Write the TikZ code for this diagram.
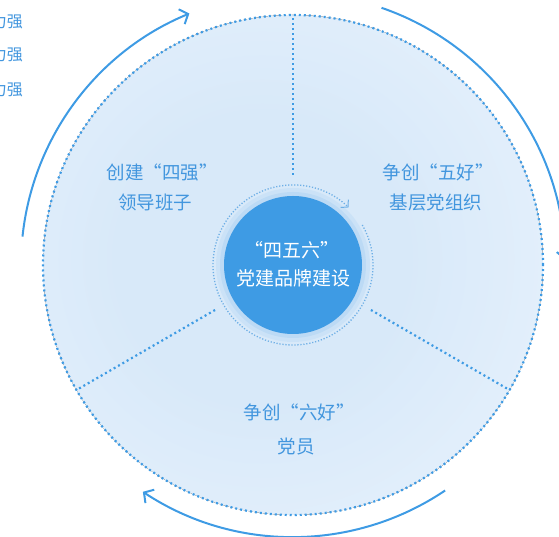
\documentclass[tikz,border=0pt]{standalone}
\usepackage{fontspec}
\newfontfamily\cjk{Noto Sans CJK SC}
\usetikzlibrary{arrows.meta,calc}
\definecolor{mainblue}{RGB}{62,155,228}
\definecolor{textblue}{RGB}{66,150,222}
\definecolor{ringblue}{RGB}{110,175,230}
\definecolor{bgA}{RGB}{216,233,249}
\definecolor{bgB}{RGB}{232,242,252}
\definecolor{bgC}{RGB}{251,253,255}
\pgfdeclareradialshading{bgshade}{\pgfpoint{0bp}{0bp}}{color(0bp)=(bgA); color(12bp)=(bgA); color(30bp)=(bgB); color(50bp)=(bgC)}
\begin{document}
\begin{tikzpicture}[x=1pt,y=1pt,
  outerarc/.style={draw=mainblue,line width=2pt,-{Straight Barb[length=7pt,width=16pt,line width=2pt]}},
  dotline/.style={draw=mainblue,line width=2.2pt,line cap=butt,dash pattern=on 2pt off 3pt},
  label/.style={text=textblue,font=\cjk\fontsize{18.5}{22}\selectfont,inner sep=0pt,align=center},
  edgetext/.style={text=textblue,font=\cjk\fontsize{16}{18}\selectfont,inner sep=0pt,anchor=east}]
\useasboundingbox (0,0) rectangle (559,537);
\coordinate (C) at (293,272);
% background disk
\begin{scope}
\clip (C) circle[radius=250];
\fill[shading=bgshade] (262,278) circle[radius=300];
\end{scope}
% outer dotted circle
\draw[dotline] (C) circle[radius=250];
% dividing lines
\foreach \a in {90,210,330}{
  \draw[dotline] ($(C)+(\a:90)$) -- ($(C)+(\a:250)$);
}
% outer solid arcs
\draw[outerarc] ($(C)+(174:272)$) arc[start angle=174,end angle=112.4,radius=272];
\draw[outerarc] ($(C)+(71:272)$) arc[start angle=71,end angle=1,radius=272];
\draw[outerarc] ($(C)+(-56:272)$) arc[start angle=-56,end angle=-123.5,radius=272];
% halo
\fill[mainblue,opacity=0.08] (C) circle[radius=77];
\fill[mainblue,opacity=0.10] (C) circle[radius=73];
% inner ring
\draw[draw=ringblue,line width=1.3pt,line cap=butt,dash pattern=on 1.2pt off 1.8pt,
  -{Straight Barb[length=5pt,width=11pt,line width=1pt]}]
  ($(C)+(30:80)$) arc[start angle=30,end angle=-314,radius=80];
% central circle
\node[circle,fill=mainblue,minimum size=138pt,inner sep=0pt] (core) at (C) {};
\node[text=white,font=\cjk\fontsize{19}{22}\selectfont,inner sep=0pt] (t1) at (292,287) {“四五六”};
\node[text=white,font=\cjk\fontsize{19}{22}\selectfont,inner sep=0pt] (t2) at (293,259) {党建品牌建设};
% labels
\node[label] (l1a) at (162,365) {创建“四强”};
\node[label] (l1b) at (155,334) {领导班子};
\node[label] (l2a) at (438,365) {争创“五好”};
\node[label] (l2b) at (436,334) {基层党组织};
\node[label] (l3a) at (299,125) {争创“六好”};
\node[label] (l3b) at (296,90) {党员};
% texts cut by the left edge, as in the reference
\node[edgetext] (e1) at (23,515) {力强};
\node[edgetext] (e2) at (23,482) {力强};
\node[edgetext] (e3) at (23,447) {力强};
\end{tikzpicture}
\end{document}
